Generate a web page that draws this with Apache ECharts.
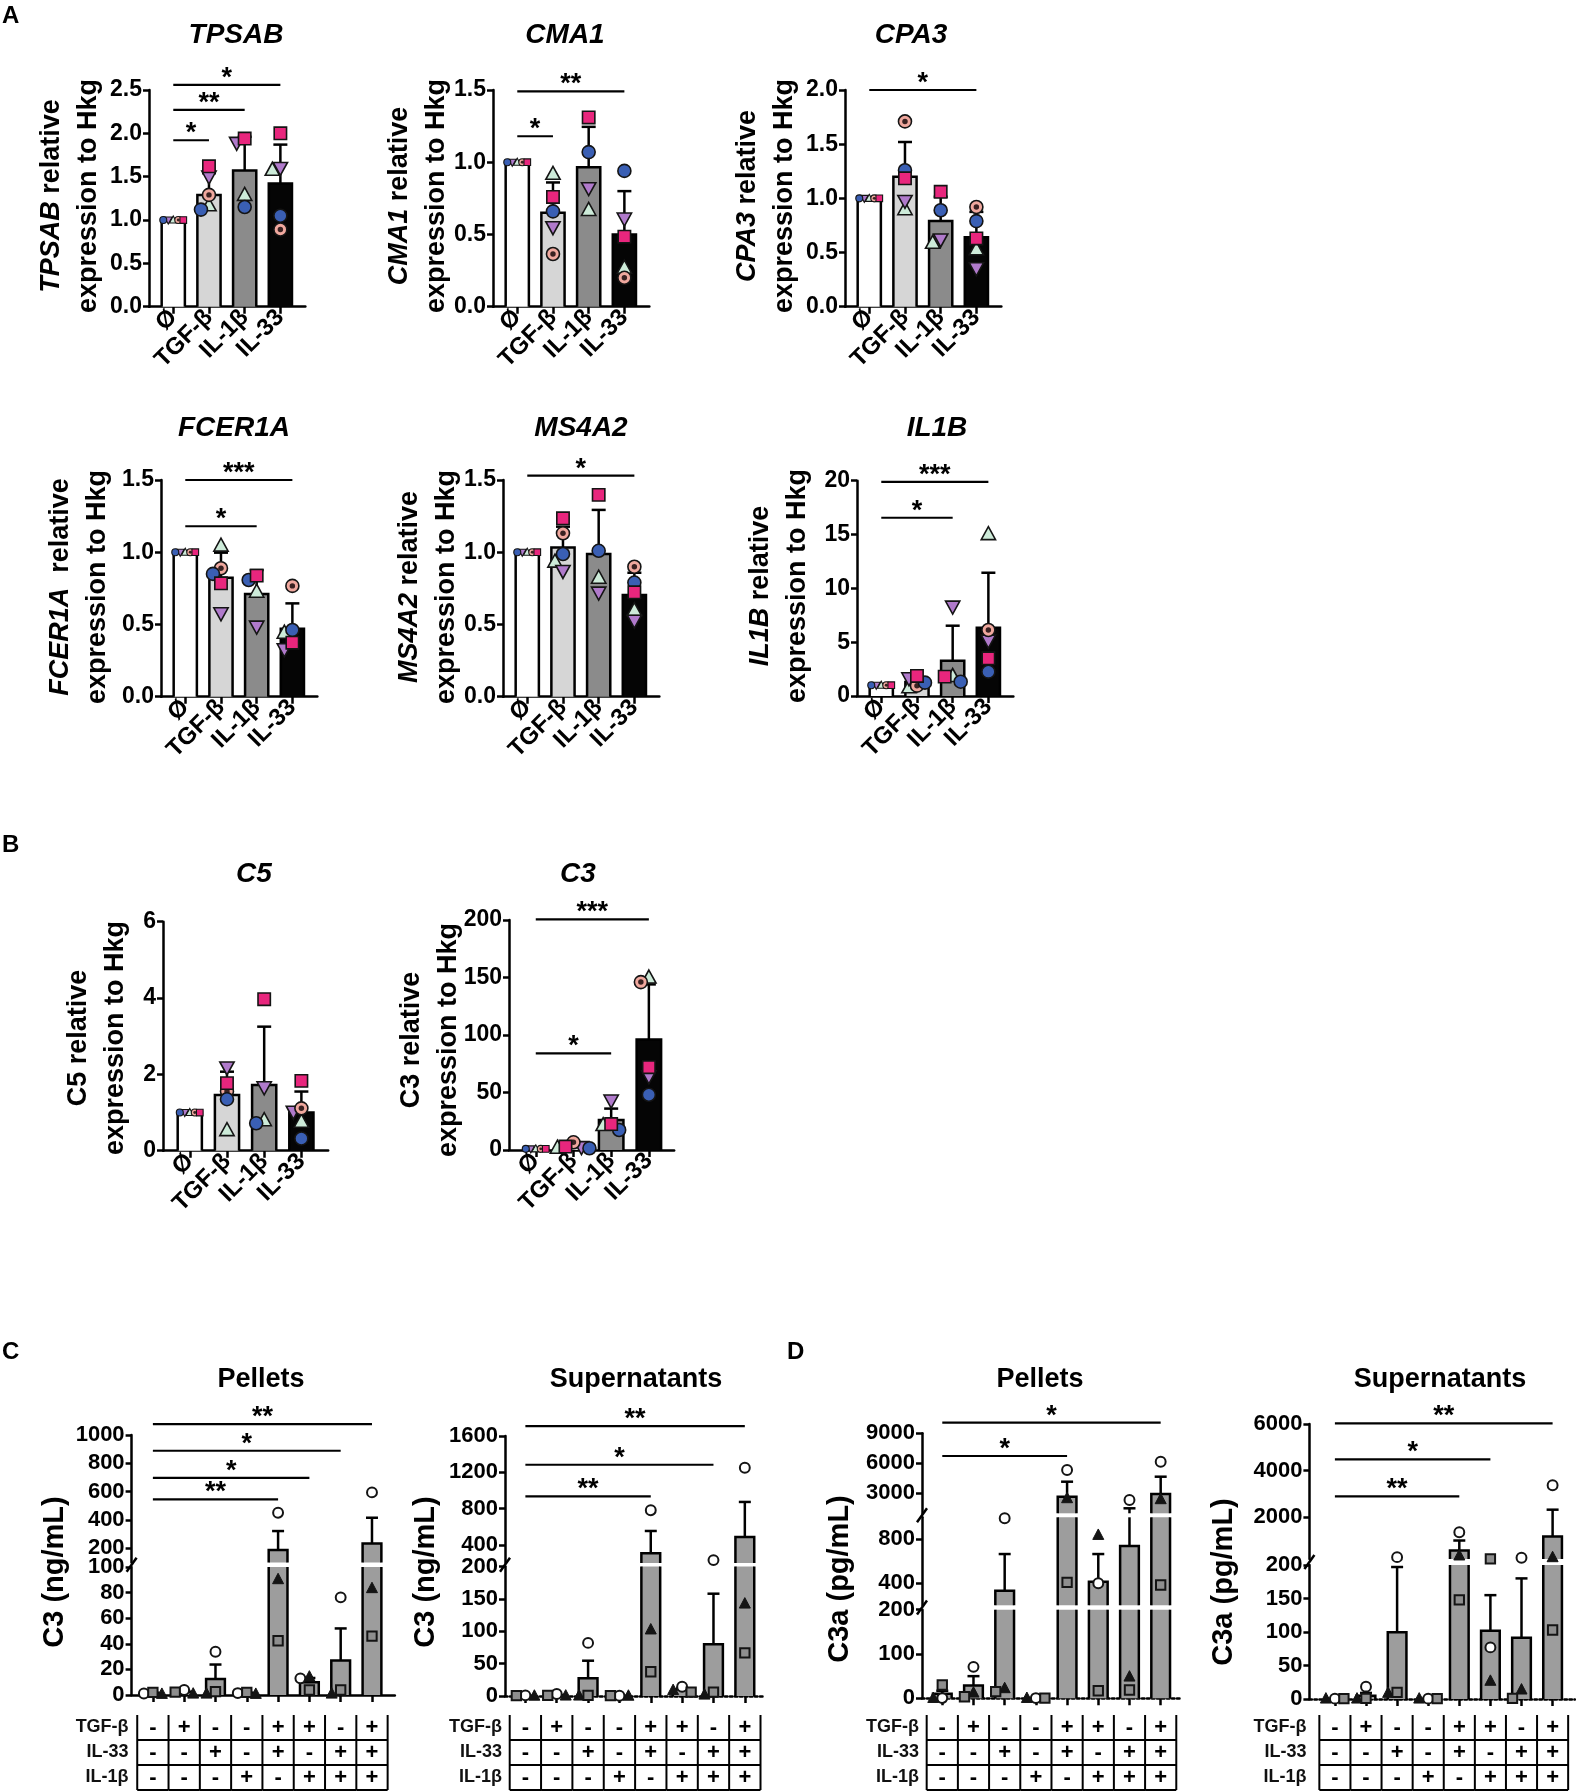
<!DOCTYPE html>
<html><head><meta charset="utf-8">
<script src="https://cdn.jsdelivr.net/npm/echarts@6.0.0/dist/echarts.min.js"></script>
<style>html,body{margin:0;padding:0;background:#fff}#c{width:1576px;height:1792px}</style>
</head><body><div id="c"></div>
<script>
// ===================== DATA =====================
const geneCategories = ['Ø', 'TGF-β', 'IL-1β', 'IL-33'];
const geneDonorKinds = ['triUp', 'triDown', 'ring', 'blue', 'square'];

const tpsabMean = [1.00, 1.29, 1.57, 1.42];
const tpsabSD = [0, 0.25, 0.39, 0.45];
const tpsabPoints = [[1,1,1,1,1],[1.17,1.50,1.29,1.12,1.62],[1.29,1.89,null,1.15,1.94],[1.58,1.60,0.89,1.05,2.00]];
const tpsabSig = [[0,3,2.56,'*'],[0,2,2.27,'**'],[0,1,1.92,'*']];
const tpsabTicks = [0,0.5,1,1.5,2,2.5];

const cma1Mean = [1.00, 0.65, 0.965, 0.50];
const cma1SD = [0, 0.21, 0.28, 0.30];
const cma1Points = [[1,1,1,1,1],[0.92,0.55,0.365,0.66,0.76],[0.67,0.82,null,1.07,1.31],[0.27,0.61,0.20,0.94,0.485]];
const cma1Sig = [[0,3,1.49,'**'],[0,1,1.18,'*']];
const cma1Ticks = [0,0.5,1,1.5];

const cpa3Mean = [1.00, 1.20, 0.79, 0.64];
const cpa3SD = [0, 0.32, 0.225, 0.235];
const cpa3Points = [[1,1,1,1,1],[0.90,0.976,1.71,1.26,1.185],[0.59,0.62,null,0.89,1.06],[0.53,0.354,0.92,0.79,0.63]];
const cpa3Sig = [[0,3,2.0,'*']];
const cpa3Ticks = [0,0.5,1,1.5,2];

const fcer1aMean = [1.00, 0.824, 0.711, 0.471];
const fcer1aSD = [0, 0.173, 0.166, 0.175];
const fcer1aPoints = [[1,1,1,1,1],[1.046,0.577,0.889,0.85,0.785],[0.727,0.485,null,0.808,0.838],[0.443,0.328,0.767,0.462,0.374]];
const fcer1aSig = [[0,3,1.5,'***'],[0,2,1.18,'*']];
const fcer1aTicks = [0,0.5,1,1.5];

const ms4a2Mean = [1.00, 1.032, 0.988, 0.704];
const ms4a2SD = [0, 0.145, 0.305, 0.154];
const ms4a2Points = [[1,1,1,1,1],[0.935,0.87,1.131,0.988,1.235],[0.824,0.72,null,1.01,1.397],[0.60,0.526,0.90,0.79,0.723]];
const ms4a2Sig = [[0,3,1.53,'*']];
const ms4a2Ticks = [0,0.5,1,1.5];

const il1bMean = [1.0, 1.3, 3.28, 6.34];
const il1bSD = [0, 0.4, 3.25, 5.11];
const il1bPoints = [[1,1,1,1,1],[0.81,1.64,0.96,1.24,1.86],[1.86,8.3,null,1.33,1.80],[15.04,5.14,6.13,2.26,3.5]];
const il1bSig = [[0,3,19.9,'***'],[0,2,16.56,'*']];
const il1bTicks = [0,5,10,15,20];

const c5Mean = [1.0, 1.46, 1.72, 1.0];
const c5SD = [0, 0.61, 1.53, 0.55];
const c5Points = [[1,1,1,1,1],[0.54,2.18,1.56,1.35,1.77],[0.80,1.66,null,0.72,3.97],[0.76,1.02,1.11,0.32,1.83]];
const c5Sig = [];
const c5Ticks = [0,2,4,6];

const c3GeneMean = [1.0, 3.5, 26, 96];
const c3GeneSD = [0, 1.5, 10, 48];
const c3GenePoints = [[1,1,1,1,1],[2,2.5,6.7,1.5,3],[21.7,43,null,17.4,22.6],[150,64,146,48,72]];
const c3GeneSig = [[0,3,200.6,'***'],[0,2,84,'*']];
const c3GeneTicks = [0,50,100,150,200];

// ---- C / D (8 stimulation conditions, 3 donors: open circle, black triangle, grey square)
const comboDonorKinds = ['openCircle', 'blackTri', 'greySquare'];
const tableRowLabels = ['TGF-β', 'IL-33', 'IL-1β'];
const comboTGF  = ['-','+','-','-','+','+','-','+'];
const comboIL33 = ['-','-','+','-','+','-','+','+'];
const comboIL1B = ['-','-','-','+','-','+','+','+'];

const c3PelletMean = [1.5, 2.5, 12.5, 1.5, 188, 10, 27, 235];
const c3PelletSEM = [0.2, 0.8, 11.3, 0.3, 134, 3.3, 25, 181];
const c3PelletPoints = [[1.2,0.8,2.0],[3.9,1.0,2.2],[33.8,1.0,2.6],[1.5,0.8,2.0],[451,90.4,42.4],[13,14.3,3.9],[76.3,1.0,3.9],[595,83.4,46]];
const c3PelletSig = [[0,7,1077,'**'],[0,6,889,'*'],[0,5,698,'*'],[0,4,546,'**']];
const c3PelletRanges = [[0,100],[100,1000]];
const c3PelletTicks = [[0,20,40,60,80,100],[200,400,600,800,1000]];

const c3SupMean = [0.5, 1.0, 27.5, 0.5, 307, 10, 80, 486];
const c3SupSEM = [0, 0.5, 27, 0, 246, 2.5, 78, 387];
const c3SupPoints = [[1,0.3,0.5],[3,0.5,1],[82,0.5,1],[0.5,0.3,0.5],[782,102.6,37.4],[14.4,9,6],[232,2,6],[1250,142.6,66.6]];
const c3SupSig = [[0,7,1709,'**'],[0,6,1283,'*'],[0,4,934,'**']];
const c3SupRanges = [[0,200],[200,1600]];
const c3SupTicks = [[0,50,100,150,200],[400,800,1200,1600]];

const c3aPelletMean = [10, 29, 333, 0.5, 2660, 415, 739, 2930];
const c3aPelletSEM = [7, 21, 333, 0, 1500, 251, 761, 1730];
const c3aPelletPoints = [[0.5,0.5,30],[71,12.7,3.6],[991,22.6,15],[0.5,0.5,0.5],[5330,2500,409],[400,839,17],[2330,48.8,18.7],[6160,2400,385]];
const c3aPelletSig = [[0,7,10060,'*'],[0,4,6730,'*']];
const c3aPelletRanges = [[0,200],[200,1000],[1000,9000]];
const c3aPelletTicks = [[0,100,200],[400,800],[3000,6000,9000]];

const c3aSupMean = [0.5, 5, 99.5, 0.5, 563, 102, 91.5, 1167];
const c3aSupSEM = [0, 4, 97.5, 0, 431, 53, 88.5, 1152];
const c3aSupPoints = [[0.5,0.5,0.5],[18.4,0.5,1],[280,9,10],[0.5,0.5,0.5],[1352,347,148],[77,27,205],[255,14,1],[3368,273,103]];
const c3aSupSig = [[0,7,6030,'**'],[0,5,4477,'*'],[0,4,2893,'**']];
const c3aSupRanges = [[0,200],[200,6000]];
const c3aSupTicks = [[0,50,100,150,200],[2000,4000,6000]];

// ===================== STYLE / LAYOUT =====================
const FONT = '"Liberation Sans", Arial, Helvetica, sans-serif';
const BLACK = '#000';
const geneBarColors = ['#ffffff', '#d6d6d6', '#8b8b8b', '#050505'];
const comboBarColor = '#9d9d9d';

const option = { animation: false, backgroundColor: '#fff', grid: [], xAxis: [], yAxis: [], series: [], graphic: [] };

function markerShape(kind, cx, cy, s) {
  const h = s / 2, dark = '#141414', lw = s < 9 ? 1.1 : 1.6;
  switch (kind) {
    case 'triUp': return {type:'polygon', shape:{points:[[cx,cy-h*1.15],[cx+h*1.1,cy+h*0.85],[cx-h*1.1,cy+h*0.85]]}, style:{fill:'#cdebd9', stroke:dark, lineWidth:lw}};
    case 'triDown': return {type:'polygon', shape:{points:[[cx,cy+h*1.15],[cx+h*1.1,cy-h*0.85],[cx-h*1.1,cy-h*0.85]]}, style:{fill:'#b07acb', stroke:dark, lineWidth:lw}};
    case 'ring': return {type:'group', children:[
      {type:'circle', shape:{cx, cy, r:h}, style:{fill:'#f0a89e', stroke:dark, lineWidth:lw}},
      {type:'circle', shape:{cx, cy, r:h*0.42}, style:{fill:'#3a2222'}}]};
    case 'blue': return {type:'circle', shape:{cx, cy, r:h}, style:{fill:'#3a5fb4', stroke:dark, lineWidth:lw}};
    case 'square': return {type:'rect', shape:{x:cx-h*0.95, y:cy-h*0.95, width:h*1.9, height:h*1.9}, style:{fill:'#e8267d', stroke:dark, lineWidth:lw}};
    case 'openCircle': return {type:'circle', shape:{cx, cy, r:h*0.9}, style:{fill:'#fff', stroke:dark, lineWidth:2}};
    case 'blackTri': return {type:'polygon', shape:{points:[[cx,cy-h*1.1],[cx+h,cy+h*0.8],[cx-h,cy+h*0.8]]}, style:{fill:dark, stroke:dark, lineWidth:1}};
    case 'greySquare': return {type:'rect', shape:{x:cx-h*0.85, y:cy-h*0.85, width:h*1.7, height:h*1.7}, style:{fill:'#8e8e8e', stroke:dark, lineWidth:2}};
  }
  return null;
}

function segIndex(v, ranges) {
  for (let i = 0; i < ranges.length; i++) if (v <= ranges[i][1]) return i;
  return ranges.length - 1;
}

// greedy beeswarm-like horizontal spreading (pixel offsets)
function jitter(vals, yPix, step) {
  const order = vals.map((v, i) => [v, i]).filter(d => d[0] != null).sort((a, b) => b[0] - a[0]);
  const placed = [], off = vals.map(() => 0);
  const cands = [0, -1, 1, -2, 2, -3, 3];
  order.forEach(([v, i]) => {
    const y = yPix(v);
    for (const k of cands) {
      const x = k * step;
      if (placed.every(p => Math.hypot(p.x - x, p.y - y) >= step - 0.01)) { placed.push({x, y}); off[i] = x; return; }
    }
    placed.push({x:0, y}); off[i] = 0;
  });
  return off;
}

function txt(x, y, text, st, rot) {
  option.graphic.push({type:'text', x, y, rotation: rot || 0, silent: true,
    style: Object.assign({text, fill: BLACK, fontFamily: FONT, textAlign:'center', textVerticalAlign:'middle', align:'center', verticalAlign:'middle'}, st)});
}

function buildPanel(c) {
  const n = c.mean.length;
  const catIdx = Array.from({length: n}, (_, i) => i);
  const width = (c.xr[1] - c.xr[0]) * c.unit;
  const yPix = v => { const i = segIndex(v, c.ranges); const s = c.ranges[i], b = c.boxes[i];
    return b.bottom - (v - s[0]) / (s[1] - s[0]) * (b.bottom - b.top); };
  const pts = [];
  c.pts.forEach((vals, ci) => {
    const small = c.firstSmall && ci === 0;
    const offs = jitter(vals, yPix, small ? 5 : c.step);
    vals.forEach((v, di) => { if (v != null) pts.push({x: ci, v, kind: c.kinds[di], off: offs[di], size: small ? 7 : c.msize}); });
  });
  const topSeg = c.ranges.length - 1;
  c.ranges.forEach((s, si) => {
    const b = c.boxes[si];
    const gi = option.grid.length;
    option.grid.push({left: c.left, top: b.top, width, height: b.bottom - b.top, outerBoundsMode: 'none', containLabel: false});
    const isBottom = si === 0;
    option.xAxis.push({gridIndex: gi, type: 'value', min: c.xr[0], max: c.xr[1], show: isBottom,
      axisLine: {show: true, onZero: false, lineStyle: {color: BLACK, width: 2.5, type: c.dotted ? 'dotted' : 'solid'}},
      axisTick: {show: true, customValues: catIdx, length: 7, lineStyle: {color: BLACK, width: 2.5}},
      axisLabel: c.xLabels ? {show: true, customValues: catIdx, formatter: v => c.xLabels[Math.round(v)], rotate: 45,
        fontSize: 24, fontWeight: 'bold', fontFamily: FONT, color: BLACK, margin: 7} : {show: false},
      splitLine: {show: false}});
    option.yAxis.push({gridIndex: gi, type: 'value', min: s[0], max: s[1],
      axisLine: {show: true, onZero: false, lineStyle: {color: BLACK, width: 2.5}},
      axisTick: {show: true, length: 6, customValues: c.ticks[si], lineStyle: {color: BLACK, width: 2.5}},
      axisLabel: {show: true, customValues: c.ticks[si], formatter: c.fmt, fontSize: c.tickFont, fontWeight: 'bold',
        fontFamily: FONT, color: BLACK, margin: 7},
      splitLine: {show: false}});
    // bars
    option.series.push({type: 'custom', xAxisIndex: gi, yAxisIndex: gi, z: 2, clip: false, silent: true,
      data: c.mean.map((m, i) => [i, m]),
      renderItem: (params, api) => {
        const i = params.dataIndex, m = c.mean[i];
        if (!(m > s[0])) return null;
        const pt = api.coord([i, Math.min(m, s[1])]), pb = api.coord([i, s[0]]);
        const w = api.size([c.barW, 0])[0];
        const xl = pt[0] - w / 2, xr = pt[0] + w / 2, yt = pt[1], yb = pb[1];
        const ls = {stroke: BLACK, lineWidth: 2.5, fill: null};
        const ch = [{type: 'rect', shape: {x: xl, y: yt, width: w, height: yb - yt}, style: {fill: c.colors[i]}}];
        if (m <= s[1]) ch.push({type: 'polyline', shape: {points: [[xl, yb], [xl, yt], [xr, yt], [xr, yb]]}, style: ls});
        else {
          ch.push({type: 'line', shape: {x1: xl, y1: yb, x2: xl, y2: yt}, style: ls});
          ch.push({type: 'line', shape: {x1: xr, y1: yb, x2: xr, y2: yt}, style: ls});
        }
        return {type: 'group', children: ch};
      }});
    // error bars (upper only)
    option.series.push({type: 'custom', xAxisIndex: gi, yAxisIndex: gi, z: 3, clip: false, silent: true,
      data: c.mean.map((m, i) => [i, m + c.err[i]]),
      renderItem: (params, api) => {
        const i = params.dataIndex, m = c.mean[i], e = c.err[i];
        if (!(e > 0)) return null;
        const topV = m + e, lo = Math.max(m, s[0]), hi = Math.min(topV, s[1]);
        if (hi <= lo) return null;
        const p1 = api.coord([i, lo]), p2 = api.coord([i, hi]);
        const ls = {stroke: BLACK, lineWidth: 2.5};
        const ch = [{type: 'line', shape: {x1: p1[0], y1: p1[1], x2: p2[0], y2: p2[1]}, style: ls}];
        if (topV <= s[1]) ch.push({type: 'line', shape: {x1: p2[0] - c.capW / 2, y1: p2[1], x2: p2[0] + c.capW / 2, y2: p2[1]}, style: ls});
        return {type: 'group', children: ch};
      }});
    // individual points
    const segPts = pts.filter(p => segIndex(p.v, c.ranges) === si);
    option.series.push({type: 'custom', xAxisIndex: gi, yAxisIndex: gi, z: 4, clip: false, silent: true,
      data: segPts.map(p => [p.x, p.v]),
      renderItem: (params, api) => {
        const p = segPts[params.dataIndex];
        const pos = api.coord([p.x, p.v]);
        return markerShape(p.kind, pos[0] + p.off, pos[1], p.size);
      }});
    if (si === topSeg && c.sig.length) {
      option.series.push({type: 'custom', xAxisIndex: gi, yAxisIndex: gi, z: 5, clip: false, silent: true,
        data: c.sig.map(g => [g[0], g[2]]),
        renderItem: (params, api) => {
          const g = c.sig[params.dataIndex];
          const a = api.coord([g[0], g[2]]), bb = api.coord([g[1], g[2]]);
          return {type: 'group', children: [
            {type: 'line', shape: {x1: a[0], y1: a[1], x2: bb[0], y2: bb[1]}, style: {stroke: BLACK, lineWidth: 2.2}},
            {type: 'text', x: (a[0] + bb[0]) / 2, y: a[1] + 7, style: {text: g[3], fontSize: 27, fontWeight: 'bold', fontFamily: FONT,
              fill: BLACK, textAlign: 'center', textVerticalAlign: 'bottom', align: 'center', verticalAlign: 'bottom'}}]};
        }});
    }
    if (si < topSeg) {
      const gap = b.top - c.boxes[si + 1].bottom;
      option.series.push({type: 'custom', xAxisIndex: gi, yAxisIndex: gi, z: 6, clip: false, silent: true,
        data: [[c.xr[0], s[1]]],
        renderItem: (params, api) => {
          const p = api.coord([c.xr[0], s[1]]);
          const yc = p[1] - gap / 2;
          return {type: 'line', shape: {x1: p[0] - 5, y1: yc + 7, x2: p[0] + 5, y2: yc - 7}, style: {stroke: BLACK, lineWidth: 2.5}};
        }});
    }
  });
  // condition table
  if (c.table) {
    const gi = option.grid.length;
    option.grid.push({left: c.left, top: c.table.top, width, height: c.table.height, outerBoundsMode: 'none', containLabel: false});
    option.xAxis.push({gridIndex: gi, type: 'value', min: c.xr[0], max: c.xr[1], show: false});
    option.yAxis.push({gridIndex: gi, type: 'category', data: tableRowLabels, inverse: true,
      axisLine: {show: false}, axisTick: {show: false}, splitLine: {show: false},
      axisLabel: {fontSize: 18, fontWeight: 'bold', color: '#111', fontFamily: FONT, margin: 3}});
    const rows = [comboTGF, comboIL33, comboIL1B];
    const cells = [];
    rows.forEach((row, r) => row.forEach((sgn, col) => cells.push([col, r, sgn])));
    option.series.push({type: 'custom', xAxisIndex: gi, yAxisIndex: gi, z: 3, clip: false, silent: true,
      data: cells.map(d => [d[0], d[1]]),
      renderItem: (params, api) => {
        const d = cells[params.dataIndex];
        const p = api.coord([d[0], d[1]]);
        const cw = api.size([1, 0])[0], rh = params.coordSys.height / 3;
        const ls = {stroke: BLACK, lineWidth: 2};
        const ch = [
          {type: 'text', x: p[0], y: p[1], style: {text: d[2], fontSize: 22, fontWeight: 'bold', fontFamily: FONT, fill: BLACK,
            textAlign: 'center', textVerticalAlign: 'middle', align: 'center', verticalAlign: 'middle'}},
          {type: 'line', shape: {x1: p[0] + cw / 2, y1: p[1] - rh / 2, x2: p[0] + cw / 2, y2: p[1] + rh / 2}, style: ls},
          {type: 'line', shape: {x1: p[0] - cw / 2, y1: p[1] + rh / 2, x2: p[0] + cw / 2, y2: p[1] + rh / 2}, style: ls}];
        if (d[0] === 0) ch.push({type: 'line', shape: {x1: p[0] - cw / 2, y1: p[1] - rh / 2, x2: p[0] - cw / 2, y2: p[1] + rh / 2}, style: ls});
        return {type: 'group', children: ch};
      }});
  }
  // titles & axis names
  if (c.title) txt(c.title[0], c.title[1], c.title[2], {fontSize: c.titleSize, fontWeight: 'bold', fontStyle: c.titleItalic ? 'italic' : 'normal'});
  if (c.ylab) {
    if (c.ylabRich) {
      const base = {fontWeight: 'bold', fontSize: 27, fontFamily: FONT, lineHeight: 37, fill: BLACK};
      txt(c.ylab[0], c.ylab[1], c.ylab[2], {fontSize: 27, fontWeight: 'bold', lineHeight: 37,
        rich: {i: Object.assign({fontStyle: 'italic'}, base), n: Object.assign({fontStyle: 'normal'}, base)}}, Math.PI / 2);
    } else {
      txt(c.ylab[0], c.ylab[1], c.ylab[2], {fontSize: 29, fontWeight: 'bold'}, Math.PI / 2);
    }
  }
}

// -------- gene expression panels (A, B)
function geneLabel(gene, italic, sep) {
  return (italic ? '{i|' + gene + '}' : '{n|' + gene + '}') + '{n|' + sep + 'relative}\n{n|expression to Hkg}';
}
const genePanels = [
  {name:'TPSAB', mean:tpsabMean, sd:tpsabSD, pts:tpsabPoints, sig:tpsabSig, ticks:tpsabTicks, dec:1, left:149, top:90, height:216.7, xr:[-0.68,3.7], unit:35.7, t:[236,35], l:[70.5,196], it:true, sep:' '},
  {name:'CMA1', mean:cma1Mean, sd:cma1SD, pts:cma1Points, sig:cma1Sig, ticks:cma1Ticks, dec:1, left:493, top:90, height:216.7, xr:[-0.68,3.7], unit:35.7, t:[565,35], l:[418,196], it:true, sep:' '},
  {name:'CPA3', mean:cpa3Mean, sd:cpa3SD, pts:cpa3Points, sig:cpa3Sig, ticks:cpa3Ticks, dec:1, left:845, top:90, height:216.7, xr:[-0.68,3.7], unit:35.7, t:[911,35], l:[766,196], it:true, sep:' '},
  {name:'FCER1A', mean:fcer1aMean, sd:fcer1aSD, pts:fcer1aPoints, sig:fcer1aSig, ticks:fcer1aTicks, dec:1, left:161, top:480, height:216.7, xr:[-0.68,3.7], unit:35.7, t:[234,428], l:[79,587], it:true, sep:'  '},
  {name:'MS4A2', mean:ms4a2Mean, sd:ms4a2SD, pts:ms4a2Points, sig:ms4a2Sig, ticks:ms4a2Ticks, dec:1, left:503, top:480, height:216.7, xr:[-0.68,3.7], unit:35.7, t:[581,428], l:[428.5,587], it:true, sep:' '},
  {name:'IL1B', mean:il1bMean, sd:il1bSD, pts:il1bPoints, sig:il1bSig, ticks:il1bTicks, dec:0, left:857, top:480.7, height:215.3, xr:[-0.68,3.7], unit:35.7, t:[937,428], l:[779,586], it:true, sep:' '},
  {name:'C5', mean:c5Mean, sd:c5SD, pts:c5Points, sig:c5Sig, ticks:c5Ticks, dec:0, left:163, top:921.7, height:229, xr:[-0.72,3.72], unit:37.2, t:[254,874], l:[97,1038], it:false, sep:' '},
  {name:'C3', mean:c3GeneMean, sd:c3GeneSD, pts:c3GenePoints, sig:c3GeneSig, ticks:c3GeneTicks, dec:0, left:509, top:920, height:230, xr:[-0.71,3.67], unit:37.7, t:[578,874], l:[430,1040], it:false, sep:' '}
];
genePanels.forEach(g => {
  buildPanel({mean: g.mean, err: g.sd, pts: g.pts, sig: g.sig, kinds: geneDonorKinds, colors: geneBarColors,
    ranges: [[0, g.ticks[g.ticks.length - 1]]], boxes: [{top: g.top, bottom: g.top + g.height}], ticks: [g.ticks],
    fmt: v => Number(v).toFixed(g.dec), tickFont: 23, left: g.left, xr: g.xr, unit: g.unit, xLabels: geneCategories,
    barW: 0.65, capW: 14, msize: 13, step: 8, firstSmall: true, dotted: false,
    title: [g.t[0], g.t[1], g.name], titleSize: 28, titleItalic: true,
    ylab: [g.l[0], g.l[1], geneLabel(g.name, g.it, g.sep)], ylabRich: true});
});

// -------- protein panels (C, D)
const comboColors = c3PelletMean.map(() => comboBarColor);
const comboPanels = [
  {mean:c3PelletMean, err:c3PelletSEM, pts:c3PelletPoints, sig:c3PelletSig, ranges:c3PelletRanges, ticks:c3PelletTicks,
   boxes:[{top:1567,bottom:1695},{top:1435,bottom:1562.5}], left:131.6, xr:[-0.68,7.73], unit:31.3, dotted:false,
   title:[261,1380,'Pellets'], ylab:[55,1572,'C3 (ng/mL)']},
  {mean:c3SupMean, err:c3SupSEM, pts:c3SupPoints, sig:c3SupSig, ranges:c3SupRanges, ticks:c3SupTicks,
   boxes:[{top:1566.5,bottom:1696},{top:1436,bottom:1563}], left:505, xr:[-0.65,7.64], unit:31.35, dotted:true,
   title:[636,1380,'Supernatants'], ylab:[426,1572,'C3 (ng/mL)']},
  {mean:c3aPelletMean, err:c3aPelletSEM, pts:c3aPelletPoints, sig:c3aPelletSig, ranges:c3aPelletRanges, ticks:c3aPelletTicks,
   boxes:[{top:1609.7,bottom:1698.3},{top:1517.3,bottom:1605.3},{top:1433.3,bottom:1513.3}], left:922, xr:[-0.65,7.63], unit:31.2, dotted:true,
   title:[1040,1380,'Pellets'], ylab:[840,1579,'C3a (pg/mL)']},
  {mean:c3aSupMean, err:c3aSupSEM, pts:c3aSupPoints, sig:c3aSupSig, ranges:c3aSupRanges, ticks:c3aSupTicks,
   boxes:[{top:1565,bottom:1699},{top:1424,bottom:1559}], left:1309.4, xr:[-0.82,7.72], unit:31.1, dotted:true,
   title:[1440,1380,'Supernatants'], ylab:[1224,1582,'C3a (pg/mL)']}
];
comboPanels.forEach(p => {
  buildPanel(Object.assign({}, p, {kinds: comboDonorKinds, colors: comboColors, fmt: v => String(v), tickFont: 22,
    xLabels: null, barW: 0.6, capW: 12, msize: 11, step: 9, firstSmall: false, titleSize: 27, titleItalic: false,
    table: {top: 1715, height: 75}, ylabRich: false}));
});

// panel letters
[['A', 2, 16], ['B', 2, 845], ['C', 2, 1352], ['D', 787, 1352]].forEach(l =>
  txt(l[1], l[2], l[0], {fontSize: 24, fontWeight: 'bold', textAlign: 'left', align: 'left'}));

const chart = echarts.init(document.getElementById('c'), null, {renderer: 'canvas'});
chart.setOption(option);
</script></body></html>
